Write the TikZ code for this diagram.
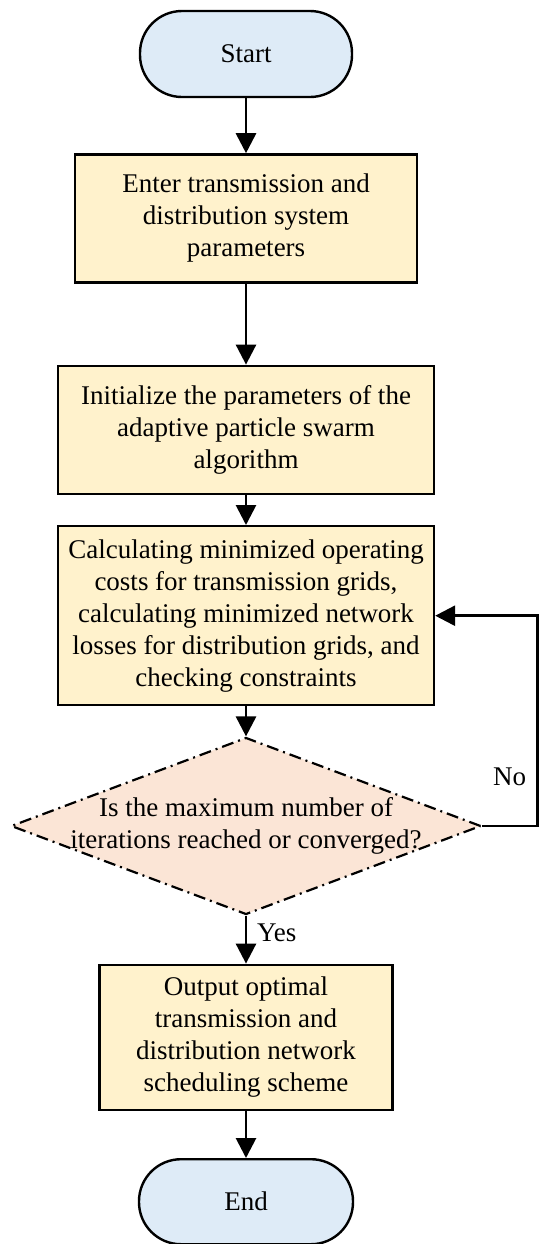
\documentclass[tikz,border=0pt]{standalone}
\usepackage{fontspec}
\setmainfont{Liberation Serif}
\usetikzlibrary{shapes.geometric,arrows.meta,positioning}
\definecolor{startblue}{RGB}{222,235,247}
\definecolor{boxyellow}{RGB}{255,242,204}
\definecolor{decorange}{RGB}{251,229,214}

\begin{document}
\begin{tikzpicture}[
    font=\fontsize{13.5pt}{16pt}\selectfont,
    terminal/.style={rectangle, rounded corners=21pt, draw, line width=1.2pt,
                     fill=startblue, minimum width=106pt, minimum height=43pt},
    process/.style={rectangle, draw, line width=1.2pt, fill=boxyellow,
                    align=center, inner sep=2pt},
    decision/.style={diamond, draw, line width=1.1pt,
                     dash pattern=on 6pt off 2.5pt on 1pt off 2.5pt,
                     fill=decorange, minimum width=235pt, minimum height=88.5pt,
                     inner sep=0pt},
    flow/.style={-{Triangle[length=10pt,width=10pt]}, line width=1.4pt}
]
    \useasboundingbox (0,0) rectangle (275pt,-622pt);

    % nodes
    \node[terminal] (start) at (123pt,-27pt) {Start};
    \node[process, minimum width=171pt, minimum height=64pt,
          below=27.5pt of start] (enter) {Enter transmission and\\
        distribution system\\ parameters};
    \node[process, minimum width=188pt, minimum height=64pt,
          below=40.5pt of enter] (init) {Initialize the parameters of the\\
        adaptive particle swarm\\ algorithm};
    \node[process, minimum width=188pt, minimum height=89.5pt,
          below=15pt of init] (calc) {Calculating minimized operating\\
        costs for transmission grids,\\ calculating minimized network\\
        losses for distribution grids, and\\ checking constraints};
    \node[decision, below=15pt of calc] (check) {};
    \node[align=center] (checktxt) at (check) {Is the maximum number of\\
        iterations reached or converged?};
    \node[process, minimum width=146.5pt, minimum height=72.5pt,
          below=24pt of check] (output) {Output optimal\\
        transmission and\\ distribution network\\ scheduling scheme};
    \node[terminal, minimum width=107pt, minimum height=42.5pt,
          below=23.5pt of output] (end) {End};

    % connectors
    \draw[flow] (start) -- (enter);
    \draw[flow] (enter) -- (init);
    \draw[flow] (init) -- (calc);
    \draw[flow] (calc) -- (check);
    \draw[flow] (check.south) -- node[pos=0.35, right=1.5pt] {Yes} (output);
    \draw[flow] (output) -- (end);
    \draw[flow] (check.east) -- node[above=16pt] {No} ++(27.5pt,0) |- (calc.east);
\end{tikzpicture}
\end{document}
